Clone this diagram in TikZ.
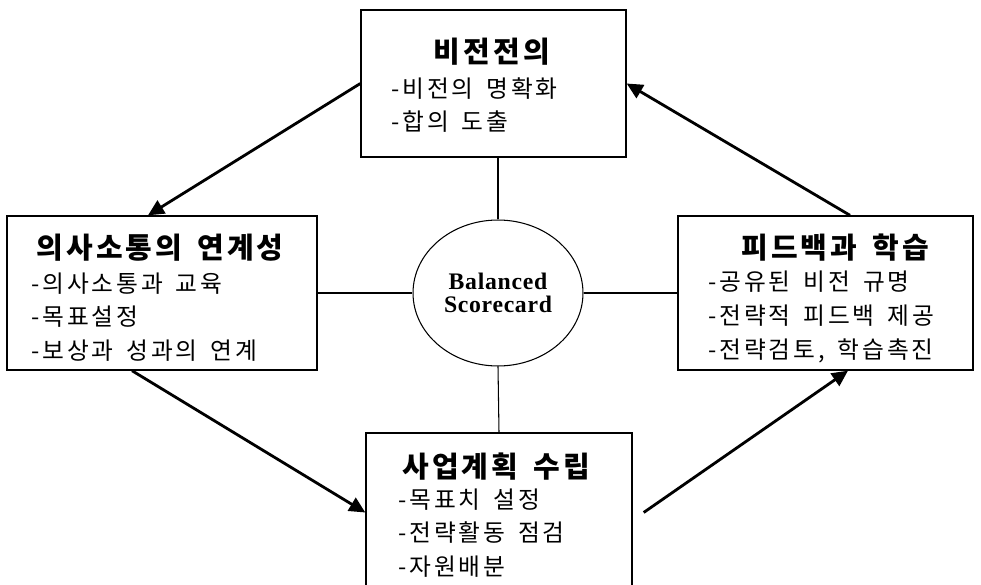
\documentclass[tikz,border=0pt]{standalone}
\usepackage{fontspec}
\newfontfamily\krtitle[LetterSpace=11, WordSpace=1.5]{Noto Sans CJK KR}
\newfontfamily\kritem[LetterSpace=12, WordSpace=1.6]{Noto Sans CJK KR}
\newfontfamily\bscfont[LetterSpace=3]{Liberation Serif}
\usetikzlibrary{arrows.meta,shapes.geometric}

\tikzset{
  box/.style={draw, line width=0.8pt, inner sep=0pt},
  boxtitle/.style={inner sep=0pt, font=\krtitle\fontsize{16.5}{19}\selectfont\bfseries},
  boxitems/.style={inner sep=0pt, anchor=west, align=left,
    font=\kritem\fontsize{13.5}{19.2}\selectfont},
  link/.style={line width=0.6pt},
  flow/.style={line width=1.6pt, -{Triangle[length=0.32cm,width=0.3cm]}}
}

\begin{document}
\begin{tikzpicture}[x=0.02cm, y=-0.02cm]
\useasboundingbox (0,0) rectangle (981,585);

% boxes
\node(vision)[box, minimum width=5.3cm, minimum height=2.94cm] at (493.5, 83.5) {};
\node(comm)[box, minimum width=6.2cm, minimum height=3.08cm] at (162, 293) {};
\node(learn)[box, minimum width=5.9cm, minimum height=3.08cm] at (825.5, 293) {};
\node(plan)[box, minimum width=5.32cm, minimum height=3.18cm] at (499, 512.5) {};
\node(bsc)[ellipse, draw, link, minimum width=3.4cm, minimum height=2.92cm, inner sep=0pt,
  align=center, font=\bscfont\fontsize{13.5}{13}\selectfont\bfseries] at (498, 293)
  {Balanced\\Scorecard};

% titles and items
\node(visiontitle)[boxtitle] at (492, 52) {비전전의};
\node(visionlist)[boxitems] at (391, 105) {-비전의 명확화\\-합의 도출};

\node(commtitle)[boxtitle] at (160, 248) {의사소통의 연계성};
\node(commlist)[boxitems] at (31, 317) {-의사소통과 교육\\-목표설정\\-보상과 성과의 연계};

\node(learntitle)[boxtitle] at (835, 248) {피드백과 학습};
\node(learnlist)[boxitems] at (708, 317) {-공유된 비전 규명\\-전략적 피드백 제공\\-전략검토, 학습촉진};

\node(plantitle)[boxtitle] at (496, 467) {사업계획 수립};
\node(planlist)[boxitems] at (398, 533) {-목표치 설정\\-전략활동 점검\\-자원배분};

% links to the centre
\draw[link] (bsc.north) -- (bsc.north |- vision.south);
\draw[link] (comm.east) -- (bsc.west);
\draw[link] (bsc.east) -- (learn.west);
\draw[link] (bsc.south) -- (plan.north);

% cycle
\draw[flow] (vision.west) -- ([xshift=-0.28cm]comm.north);
\draw[flow] ([xshift=-0.6cm]comm.south) -- (plan.west);
\draw[flow] ([xshift=0.22cm]plan.east) -- ([xshift=0.45cm]learn.south);
\draw[flow] ([xshift=0.49cm]learn.north) -- (vision.east);
\end{tikzpicture}
\end{document}
